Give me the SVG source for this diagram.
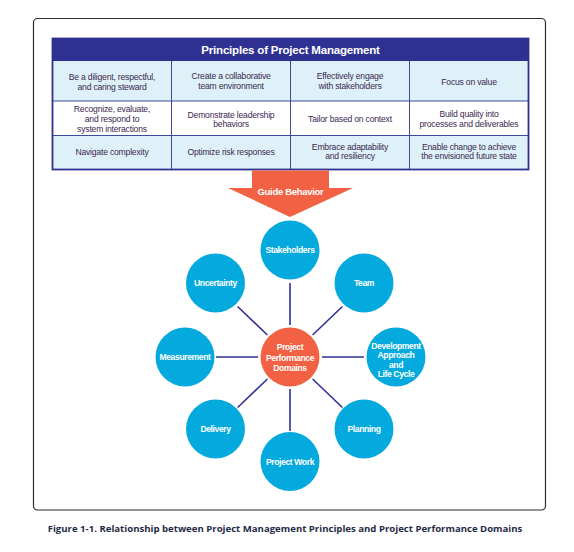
<svg xmlns="http://www.w3.org/2000/svg" width="574" height="552" viewBox="0 0 574 552">
<style>
.cell{font-family:"Liberation Sans",Arial,sans-serif;font-size:8.6px;fill:#3a2850;text-anchor:middle;letter-spacing:-0.2px}
.lbl{font-family:"Liberation Sans",Arial,sans-serif;font-size:8.6px;font-weight:bold;fill:#ffffff;text-anchor:middle;letter-spacing:-0.4px}
.node{fill:#04a9dd}
.conn{stroke:#2e3192;stroke-width:1.6}
.grid{stroke:#3c4a9e;stroke-width:1;fill:none}
</style>
<rect width="574" height="552" fill="#ffffff"/>
<rect x="33.5" y="18.5" width="512" height="491.5" rx="4" fill="none" stroke="#2b2b33" stroke-width="1.2"/>
<g id="table">
<rect x="52.5" y="38.5" width="476" height="22.5" fill="#2e3192"/>
<text x="290.5" y="54" font-family="Liberation Sans,Arial,sans-serif" font-size="11.5" font-weight="bold" fill="#ffffff" text-anchor="middle" letter-spacing="-0.2">Principles of Project Management</text>
<rect x="52.5" y="61" width="476" height="40" fill="#dff1f8"/>
<rect x="52.5" y="101" width="476" height="34.5" fill="#ffffff"/>
<rect x="52.5" y="135.5" width="476" height="34" fill="#dff1f8"/>
<path class="grid" d="M52.5 101H528.5M52.5 135.5H528.5M171.5 61V169.5M290.5 61V169.5M409.5 61V169.5"/>
<rect x="52.5" y="38.5" width="476" height="131" fill="none" stroke="#2e3192" stroke-width="1.8"/>
<text class="cell" x="112" y="79.5">Be a diligent, respectful,</text>
<text class="cell" x="112" y="89.5">and caring steward</text>
<text class="cell" x="231" y="79">Create a collaborative</text>
<text class="cell" x="231" y="89">team environment</text>
<text class="cell" x="350" y="79">Effectively engage</text>
<text class="cell" x="350" y="89">with stakeholders</text>
<text class="cell" x="469" y="85">Focus on value</text>
<text class="cell" x="112" y="112">Recognize, evaluate,</text>
<text class="cell" x="112" y="122">and respond to</text>
<text class="cell" x="112" y="131.5">system interactions</text>
<text class="cell" x="231" y="117.5">Demonstrate leadership</text>
<text class="cell" x="231" y="127">behaviors</text>
<text class="cell" x="350" y="122">Tailor based on context</text>
<text class="cell" x="469" y="117">Build quality into</text>
<text class="cell" x="469" y="127">processes and deliverables</text>
<text class="cell" x="112" y="154.5">Navigate complexity</text>
<text class="cell" x="231" y="154.5">Optimize risk responses</text>
<text class="cell" x="350" y="149.5">Embrace adaptability</text>
<text class="cell" x="350" y="159">and resiliency</text>
<text class="cell" x="469" y="149.5">Enable change to achieve</text>
<text class="cell" x="469" y="159">the envisioned future state</text>
</g>
<g id="arrow">
<polygon points="252,170.5 329,170.5 329,188 353,188 290,217 228,188 252,188" fill="#f26143"/>
<text x="290.5" y="194.5" font-family="Liberation Sans,Arial,sans-serif" font-size="9.5" font-weight="bold" fill="#ffffff" text-anchor="middle" letter-spacing="-0.3">Guide Behavior</text>
</g>
<g id="connectors">
<line class="conn" x1="290" y1="325" x2="290" y2="283"/>
<line class="conn" x1="290" y1="389" x2="290" y2="431"/>
<line class="conn" x1="258" y1="357" x2="216" y2="357"/>
<line class="conn" x1="322" y1="357" x2="364" y2="357"/>
<line class="conn" x1="267.4" y1="335" x2="237.6" y2="306.5"/>
<line class="conn" x1="312.6" y1="335" x2="342.4" y2="306.5"/>
<line class="conn" x1="267.4" y1="379" x2="237.6" y2="407.5"/>
<line class="conn" x1="312.6" y1="379" x2="342.4" y2="407.5"/>
</g>
<g id="stakeholders"><circle class="node" cx="290" cy="250" r="29.5"/><text class="lbl" x="290" y="253">Stakeholders</text></g>
<g id="team"><circle class="node" cx="364" cy="283" r="29.5"/><text class="lbl" x="364" y="286">Team</text></g>
<g id="development"><circle class="node" cx="396" cy="357" r="29.5"/>
<text class="lbl" x="396" y="349">Development</text><text class="lbl" x="396" y="358.3">Approach</text><text class="lbl" x="396" y="368">and</text><text class="lbl" x="396" y="376.7">Life Cycle</text></g>
<g id="planning"><circle class="node" cx="364" cy="429" r="29.5"/><text class="lbl" x="364" y="432">Planning</text></g>
<g id="projectwork"><circle class="node" cx="290" cy="461.5" r="29.5"/><text class="lbl" x="290" y="464.5">Project Work</text></g>
<g id="delivery"><circle class="node" cx="215.5" cy="429" r="29.5"/><text class="lbl" x="215.5" y="432">Delivery</text></g>
<g id="measurement"><circle class="node" cx="185" cy="357" r="29.5"/><text class="lbl" x="185" y="360">Measurement</text></g>
<g id="uncertainty"><circle class="node" cx="215.5" cy="283" r="29.5"/><text class="lbl" x="215.5" y="286">Uncertainty</text></g>
<g id="center"><circle cx="290" cy="357" r="29.5" fill="#f26143"/>
<text class="lbl" x="290" y="349.7">Project</text><text class="lbl" x="290" y="360.5">Performance</text><text class="lbl" x="290" y="370.7">Domains</text></g>
<text x="285" y="531.5" font-family="Open Sans,Liberation Sans,sans-serif" font-size="9.6" font-weight="bold" fill="#1f2a44" text-anchor="middle">Figure 1-1. Relationship between Project Management Principles and Project Performance Domains</text>
</svg>
